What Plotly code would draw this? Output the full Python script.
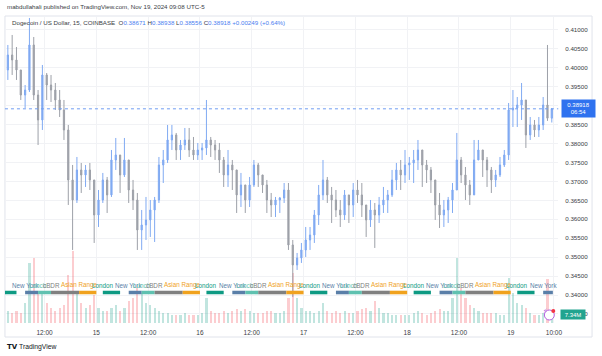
import plotly.graph_objects as go
import pandas as pd

# ---------------- data (hourly aggregation) ----------------
first_open = 0.39944
close = [
    0.40340, 0.40208, 0.39944, 0.39283, 0.39415, 0.40604, 0.39283, 0.38623, 0.39812, 0.39547,
    0.39415, 0.39151, 0.38887, 0.38359, 0.37039, 0.36510, 0.37303, 0.37171, 0.37303, 0.37039,
    0.36114,
    0.36510, 0.37039, 0.36643, 0.37567, 0.37699, 0.37171, 0.37567, 0.36774, 0.36510, 0.35718,
    0.35850, 0.35982, 0.36246, 0.36510, 0.37435, 0.37567, 0.38095, 0.38227, 0.37831, 0.37963,
    0.38095, 0.37831, 0.37699, 0.37831,
    0.37884, 0.38095, 0.37963, 0.37831, 0.37567, 0.37171, 0.37435, 0.37303, 0.36643, 0.36907,
    0.36510, 0.36907, 0.37435, 0.37171, 0.36907, 0.36510, 0.36378, 0.36510, 0.36563, 0.36774,
    0.35322, 0.34794, 0.34979, 0.35190,
    0.35454, 0.35586, 0.36114, 0.36643, 0.37039, 0.36643, 0.36510, 0.36246, 0.36114, 0.36643,
    0.36378, 0.36774, 0.36643, 0.36378, 0.35982, 0.36246, 0.36114, 0.36378, 0.36510, 0.36643,
    0.37039, 0.37303, 0.37171, 0.37435,
    0.37488, 0.37567, 0.37831, 0.37435, 0.37303, 0.37039, 0.36378, 0.36114, 0.36246, 0.36510,
    0.36774, 0.37567, 0.37171, 0.36907, 0.36643, 0.37567, 0.37831, 0.37567, 0.37303, 0.37039,
    0.37171, 0.37435, 0.37699, 0.38887,
    0.38940, 0.39019, 0.39151, 0.38227, 0.38491, 0.38359, 0.38491, 0.39019, 0.38671, 0.38918,
]
high = [
    0.40604, 0.40868, 0.40551, 0.39944, 0.39547, 0.41317, 0.40815, 0.39415, 0.40076, 0.39864,
    0.39812, 0.39600, 0.39415, 0.39151, 0.38491, 0.37435, 0.37646, 0.37488, 0.37435, 0.37488,
    0.37039,
    0.36774, 0.37224, 0.37118, 0.37831, 0.38148, 0.37699, 0.38148, 0.37567, 0.37039, 0.36695,
    0.36246, 0.36590, 0.36510, 0.36590, 0.37646, 0.37831, 0.38491, 0.38491, 0.38280, 0.38095,
    0.38412, 0.38412, 0.38174, 0.38016,
    0.38016, 0.39151, 0.38174, 0.38095, 0.38016, 0.37646, 0.37831, 0.37567, 0.37303, 0.37224,
    0.36907, 0.37118, 0.37567, 0.37488, 0.37171, 0.37039, 0.36695, 0.36590, 0.36590, 0.36959,
    0.36959, 0.35454, 0.35111, 0.35375,
    0.35797, 0.35797, 0.36246, 0.36907, 0.37567, 0.37118, 0.36854, 0.36774, 0.36510, 0.36774,
    0.36643, 0.36959, 0.37039, 0.36959, 0.36378, 0.36510, 0.36431, 0.36590, 0.36854, 0.36774,
    0.37303, 0.37488, 0.37567, 0.37831,
    0.37646, 0.37831, 0.38095, 0.37831, 0.37567, 0.37382, 0.37039, 0.36695, 0.36510, 0.36590,
    0.36959, 0.38280, 0.37646, 0.37382, 0.37039, 0.38095, 0.38095, 0.37831, 0.37646, 0.37382,
    0.37303, 0.37646, 0.37831, 0.39072,
    0.39415, 0.39230, 0.39600, 0.39151, 0.38702, 0.38623, 0.38702, 0.39230, 0.40604, 0.38938,
]
low = [
    0.39680, 0.39812, 0.39680, 0.39151, 0.38940, 0.39363, 0.39151, 0.37963, 0.38359, 0.39151,
    0.39098, 0.38887, 0.38702, 0.38095, 0.36378, 0.35190, 0.36431, 0.36695, 0.36854, 0.36774,
    0.35375,
    0.35797, 0.36431, 0.36167, 0.36590, 0.37303, 0.36695, 0.37118, 0.36431, 0.36246, 0.35190,
    0.35190, 0.35454, 0.35533, 0.35401, 0.36431, 0.36959, 0.37488, 0.37831, 0.37567, 0.37567,
    0.37831, 0.37646, 0.37567, 0.37567,
    0.37567, 0.37699, 0.37646, 0.37567, 0.37224, 0.36854, 0.36854, 0.36774, 0.36167, 0.36325,
    0.36167, 0.36325, 0.36854, 0.36854, 0.36695, 0.36167, 0.36061, 0.36061, 0.36167, 0.36431,
    0.35190, 0.33949, 0.34662, 0.34847,
    0.35005, 0.35190, 0.35375, 0.35850, 0.36510, 0.36431, 0.35903, 0.36061, 0.35797, 0.35982,
    0.35903, 0.36061, 0.36431, 0.36061, 0.35533, 0.35797, 0.35243, 0.35903, 0.36167, 0.36167,
    0.36590, 0.36774, 0.36774, 0.36959,
    0.37039, 0.36959, 0.37303, 0.36854, 0.36959, 0.36695, 0.35982, 0.35771, 0.35797, 0.35903,
    0.36167, 0.36774, 0.36959, 0.36510, 0.36378, 0.36643, 0.37567, 0.37118, 0.36854, 0.36695,
    0.36854, 0.37118, 0.37382, 0.37567,
    0.38438, 0.38438, 0.38623, 0.37884, 0.38095, 0.38174, 0.38174, 0.38359, 0.38600, 0.38556,
]
volume_m = [
    14.4, 12, 14.4, 12, 24, 72, 78, 36, 36, 24, 18, 14.4, 18, 21.6, 57.6, 86.4, 36, 24, 18, 21.6, 33.6,
    18, 14.4, 14.4, 18, 21.6, 14.4, 18, 26.4, 30, 42, 36, 24, 21.6, 18, 14.4, 12, 12, 9.6, 9.6, 9.6, 12, 9.6, 9.6, 9.6,
    12, 30, 14.4, 12, 12, 14.4, 12, 14.4, 16.8, 14.4, 16.8, 14.4, 12, 12, 12, 14.4, 14.4, 12, 12, 14.4, 30, 60, 30, 18,
    14.4, 14.4, 12, 14.4, 24, 14.4, 12, 14.4, 12, 14.4, 12, 12, 14.4, 16.8, 18, 14.4, 26.4, 18, 12, 12, 9.6, 9.6, 9.6, 9.6,
    9.6, 12, 14.4, 12, 9.6, 12, 14.4, 16.8, 14.4, 14.4, 30, 78, 42, 30, 21.6, 18, 14.4, 12, 12, 12, 12, 9.6, 9.6, 54,
    36, 24, 21.6, 18, 12, 9.6, 9.6, 12, 52.8, 7.34,
]
assert len(close) == len(high) == len(low) == len(volume_m) == 127

times = pd.date_range("2024-11-14 03:30", periods=len(close), freq="h")
opens = [first_open] + close[:-1]

price_ticks = [0.335, 0.34, 0.345, 0.35, 0.355, 0.36, 0.365, 0.37, 0.375,
               0.38, 0.385, 0.39, 0.395, 0.40, 0.405, 0.41]
time_tick_vals = ["2024-11-14 12:00", "2024-11-15 00:00", "2024-11-15 12:00",
                  "2024-11-16 00:00", "2024-11-16 12:00", "2024-11-17 00:00",
                  "2024-11-17 12:00", "2024-11-18 00:00", "2024-11-18 12:00",
                  "2024-11-19 00:00", "2024-11-19 10:00"]
time_tick_text = ["12:00", "15", "12:00", "16", "12:00", "17", "12:00", "18",
                  "12:00", "19", "10:00"]

days = ["2024-11-14", "2024-11-15", "2024-11-16", "2024-11-17", "2024-11-18", "2024-11-19"]
session_names = ["London", "New York", "Lunch", "cBDR", "Asian Range"]
session_start_h = [1.5, 7.5, 10.5, 13.5, 20.0]
session_end_h = [5.5, 10.5, 13.5, 20.0, 24.0]
session_colors = ["#0e9a83", "#5a7fa8", "#5fc1b0", "#808080", "#f0a21e"]

legend_title = "Dogecoin / US Dollar, 15, COINBASE"
change_text = "+0.00249 (+0.64%)"
header_text = "mabdullahali published on TradingView.com, Nov 19, 2024 09:08 UTC-5"
price_time_left = "06:54"
volume_label = "7.34M"

# ---------------- style ----------------
W, H = 602, 356
UP = "#80aaf2"
DOWN = "#9da0a8"
VOL_UP = "rgba(8,153,129,0.25)"
VOL_DOWN = "rgba(242,54,69,0.25)"
GRID = "#f1f2f5"
TXT = "#3a3d45"
FONT = "Liberation Sans, Arial, sans-serif"

def px_x(p):
    return p / W

def px_y(p):
    return 1 - p / H

x_range = ["2024-11-14 02:50", "2024-11-19 11:00"]
dom_x = [px_x(5), px_x(562)]
dom_y = [px_y(323), px_y(17)]

fig = go.Figure()

vol_colors = [VOL_UP if c >= o else VOL_DOWN for o, c in zip(opens, close)]
fig.add_trace(go.Bar(x=times, y=volume_m, marker=dict(color=vol_colors, line=dict(width=0)),
                     width=0.5 * 3600 * 1000, yaxis="y", showlegend=False, hoverinfo="skip"))

fig.add_trace(go.Candlestick(
    x=times, open=opens, high=high, low=low, close=close, yaxis="y2",
    increasing=dict(line=dict(color=UP, width=1), fillcolor=UP),
    decreasing=dict(line=dict(color=DOWN, width=1), fillcolor=DOWN),
    whiskerwidth=0, showlegend=False))

shapes = []
annotations = []

# pane border
shapes.append(dict(type="rect", xref="paper", yref="paper", x0=px_x(5), x1=px_x(596),
                   y0=px_y(337), y1=px_y(16), line=dict(color="#e0e3eb", width=1), layer="below"))

# last price dotted line
shapes.append(dict(type="line", xref="paper", yref="y2", x0=px_x(5), x1=px_x(562),
                   y0=close[-1], y1=close[-1], line=dict(color="#6f9cf2", width=1, dash="dot")))

# sessions
range_start = pd.Timestamp(x_range[0])
data_end = times[-1] + pd.Timedelta(minutes=15)
for d in days:
    day0 = pd.Timestamp(d)
    for name, s, e, col in zip(session_names, session_start_h, session_end_h, session_colors):
        t0 = day0 + pd.Timedelta(hours=s)
        t1 = day0 + pd.Timedelta(hours=e)
        if t0 >= data_end or t1 <= range_start:
            continue
        c0 = max(t0, range_start)
        c1 = min(t1, data_end)
        shapes.append(dict(type="rect", xref="x", yref="paper", x0=c0, x1=c1,
                           y0=px_y(294.3), y1=px_y(290.7), fillcolor=col, line=dict(width=0),
                           layer="above"))
        if t0 >= range_start:
            annotations.append(dict(x=t0, xref="x", y=px_y(285), yref="paper", text=name,
                                    showarrow=False, xanchor="center", yanchor="middle",
                                    font=dict(family=FONT, size=6.3, color=col)))

# header
annotations.append(dict(x=px_x(5), y=px_y(7), xref="paper", yref="paper", text=header_text,
                        showarrow=False, xanchor="left", yanchor="middle",
                        font=dict(family=FONT, size=6.2, color=TXT)))

BLUE = "#4a7ef0"
legend = (f"{legend_title}  O<span style='color:{BLUE}'>{opens[-1]:.5f}</span> "
          f"H<span style='color:{BLUE}'>{high[-1]:.5f}</span> "
          f"L<span style='color:{BLUE}'>{low[-1]:.5f}</span> "
          f"C<span style='color:{BLUE}'>{close[-1]:.5f}</span> "
          f"<span style='color:{BLUE}'>{change_text}</span>")
annotations.append(dict(x=px_x(10), y=px_y(23), xref="paper", yref="paper", text=legend,
                        showarrow=False, xanchor="left", yanchor="middle",
                        font=dict(family=FONT, size=6.2, color=TXT)))

# last price label
annotations.append(dict(x=px_x(582), y=close[-1], xref="paper", yref="y2",
                        text=f"{close[-1]:.5f}<br>{price_time_left}", showarrow=False,
                        xanchor="center", yanchor="middle", bgcolor="#2f72ef",
                        width=32, height=16, borderpad=0.5,
                        font=dict(family=FONT, size=6.0, color="white")))

# volume label
annotations.append(dict(x=px_x(577), y=px_y(314), xref="paper", yref="paper",
                        text=volume_label, showarrow=False, xanchor="center", yanchor="middle",
                        bgcolor="#22a48f", width=24, height=9, borderpad=0,
                        font=dict(family=FONT, size=6.0, color="white")))

# lightning icon
shapes.append(dict(type="circle", xref="paper", yref="paper", x0=px_x(548), x1=px_x(558),
                   y0=px_y(320), y1=px_y(310), line=dict(color="#b35ee0", width=1),
                   fillcolor="white", layer="above"))
shapes.append(dict(type="circle", xref="paper", yref="paper", x0=px_x(555), x1=px_x(559),
                   y0=px_y(313), y1=px_y(309), line=dict(width=0),
                   fillcolor="#f23645", layer="above"))
annotations.append(dict(x=px_x(553), y=px_y(315.5), xref="paper", yref="paper", text="⚡",
                        showarrow=False, font=dict(family="DejaVu Sans", size=6, color="#b35ee0")))

# TradingView footer
annotations.append(dict(x=px_x(5), y=px_y(347), xref="paper", yref="paper",
                        text="<b>TV</b>", showarrow=False, xanchor="left", yanchor="middle",
                        font=dict(family="DejaVu Sans", size=7.0, color="#131722")))
annotations.append(dict(x=px_x(17), y=px_y(347), xref="paper", yref="paper",
                        text="TradingView", showarrow=False, xanchor="left", yanchor="middle",
                        font=dict(family=FONT, size=6.8, color="#131722")))

fig.update_layout(
    width=W, height=H, margin=dict(l=0, r=0, t=0, b=0),
    paper_bgcolor="white", plot_bgcolor="white",
    showlegend=False, bargap=0, boxgap=0.6, hovermode=False,
    font=dict(family=FONT, size=6.3, color=TXT),
    xaxis=dict(type="date", domain=dom_x, range=x_range, rangeslider=dict(visible=False),
               tickvals=time_tick_vals, ticktext=time_tick_text, showgrid=True,
               gridcolor=GRID, gridwidth=1, zeroline=False, showline=False, ticks="",
               ticklabelstandoff=4, tickfont=dict(size=6.5, color=TXT), anchor="y"),
    yaxis=dict(domain=dom_y, range=[0, 367], visible=False, showgrid=False, zeroline=False,
               fixedrange=True),
    yaxis2=dict(overlaying="y", side="right", anchor="x", range=[0.33261, 0.41343],
                tickvals=price_ticks, tickformat=".5f", showgrid=True, gridcolor=GRID,
                zeroline=False, showline=False, ticks="", ticklabelstandoff=6,
                tickfont=dict(size=6.2, color=TXT)),
    shapes=shapes, annotations=annotations,
)

fig.write_html("out.html", config={"displayModeBar": False},
               post_script="document.body.style.margin='0px';document.body.style.padding='0px';")
